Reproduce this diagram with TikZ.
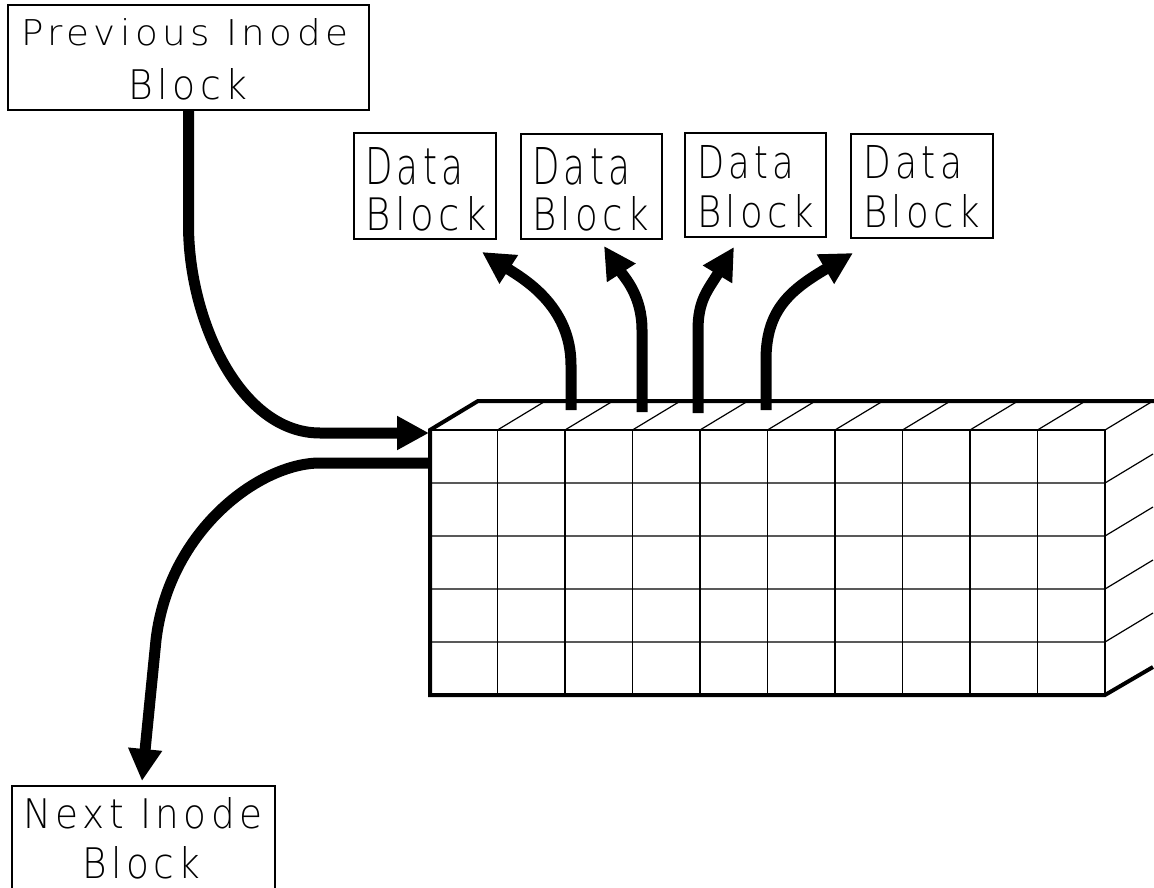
\documentclass[tikz,border=0pt]{standalone}
\usepackage{fontspec}
\usetikzlibrary{arrows.meta}
% thin, widely spaced lettering for the labels
\IfFontExistsTF{DejaVu Sans ExtraLight}
  {\newfontfamily\lbl{DejaVu Sans ExtraLight}[LetterSpace=12]}
  {\IfFontExistsTF{Lato Light}
    {\newfontfamily\lbl{Lato Light}[LetterSpace=12]}
    {\IfFontExistsTF{Fira Sans Light}
      {\newfontfamily\lbl{Fira Sans Light}[LetterSpace=12]}
      {\newfontfamily\lbl{DejaVu Sans}[LetterSpace=12]}}}
% one label line: name, left x, baseline y, width, height, text
\newcommand\lbline[6]{%
  \node[anchor=base west, inner sep=0pt] (#1) at (#2,#3) {\resizebox{#4pt}{#5pt}{\lbl #6}};}
\tikzset{
  box/.style={draw, line width=1.3pt, inner sep=0pt, outer sep=0pt},
  thinline/.style={line width=1.2pt},
  outline/.style={line width=4pt, line join=miter},
  flow/.style={line width=11pt, -{Triangle[length=32pt,width=32pt]}},
}
\begin{document}
\begin{tikzpicture}[x=1pt, y=-1pt]
\clip (0,0) rectangle (1154,888);
\fill[white] (0,0) rectangle (1154,888);

% ---- label boxes ----
\node[box, minimum width=361pt, minimum height=105pt] (prev) at (188.5,57.5) {};
\lbline{prevA}{21}{46}{327}{27}{Previous Inode}
\lbline{prevB}{128}{100}{119}{31}{Block}

\node[box, minimum width=142pt, minimum height=106pt] (d1) at (425,186) {};
\node[box, minimum width=141pt, minimum height=105pt] (d2) at (591.5,186.5) {};
\node[box, minimum width=141pt, minimum height=104pt] (d3) at (755.5,185) {};
\node[box, minimum width=142pt, minimum height=104pt] (d4) at (922,186) {};
\lbline{d1a}{365}{185}{98}{37}{Data}
\lbline{d1b}{365}{230}{122}{34}{Block}
\lbline{d2a}{532}{185}{98}{37}{Data}
\lbline{d2b}{532}{230}{117}{34}{Block}
\lbline{d3a}{697}{178}{97}{33}{Data}
\lbline{d3b}{697}{227}{117}{33}{Block}
\lbline{d4a}{863}{178}{99}{33}{Data}
\lbline{d4b}{863}{227}{117}{33}{Block}

\node[box, minimum width=263pt, minimum height=120pt] (next) at (143.5,846) {};
\lbline{nextA}{23}{828}{239}{31}{Next Inode}
\lbline{nextB}{82}{878}{118}{32}{Block}

% ---- the block of cells (front face, top face, side face) ----
\foreach \i in {1,...,10} {
  \draw[thinline] ({430+67.5*\i},430) -- ++(0,265);
  \draw[thinline] ({430+67.5*\i},430) -- ++(48,-29);
}
\draw[thinline] (430,430) -- (1105,430);
\foreach \j in {1,...,4} {
  \draw[thinline] (430,{430+53*\j}) -- (1105,{430+53*\j}) -- ++(48,-29);
}
\draw[outline] (1153,667) -- (1105,695) -- (430,695) -- (430,430) -- (478,401) -- (1170,401);

\coordinate (cin)  at (429,433);
\coordinate (cout) at (430,463);
\coordinate (nin)  at (142,781);
\coordinate (s1) at (571,410);
\coordinate (s2) at (642,412);
\coordinate (s3) at (698,413);
\coordinate (s4) at (766,410);
\coordinate (t1) at (482,252);
\coordinate (t2) at (604,246);
\coordinate (t3) at (734,247);
\coordinate (t4) at (853,253);

% ---- connectors ----
\draw[flow] (prev.south) -- (188.5,225) .. controls (188.5,320) and (240,433) .. (320,433) -- (cin);
\draw[flow] (cout) -- (320,463) .. controls (260,463) and (169,530) .. (156,640) -- (nin);

\draw[flow] (s1) -- (571,365) .. controls (571,305) and (522,278) .. (t1);
\draw[flow] (s2) -- (642,330) .. controls (642,295) and (624,277) .. (t2);
\draw[flow] (s3) -- (698,330) .. controls (698,300) and (708,290) .. (t3);
\draw[flow] (s4) -- (766,360) .. controls (766,310) and (790,290) .. (t4);
\end{tikzpicture}
\end{document}
